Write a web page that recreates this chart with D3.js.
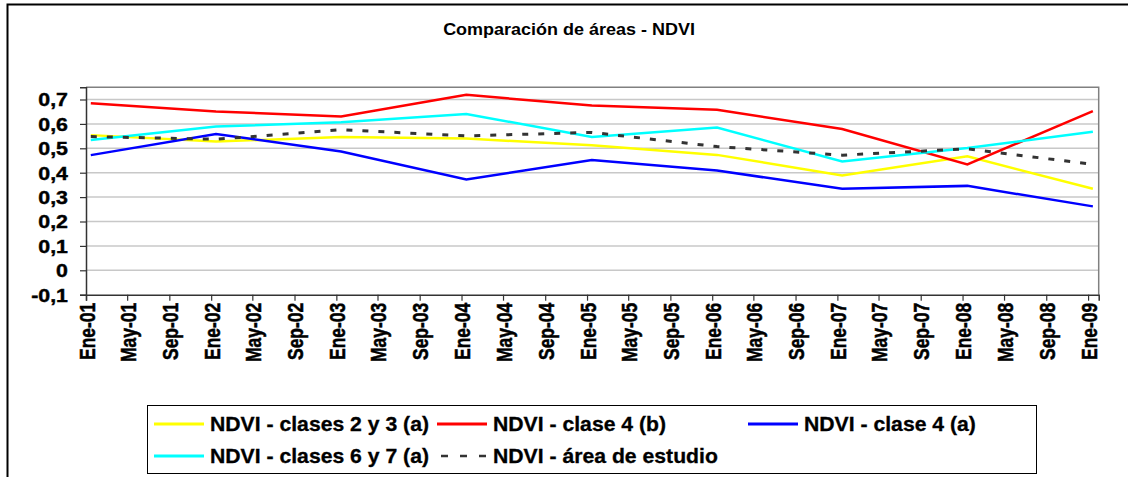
<!DOCTYPE html>
<html>
<head>
<meta charset="utf-8">
<script src="https://cdn.jsdelivr.net/npm/d3@7"></script>
<style>
  body { margin: 0; background: #fff; }
  svg { display: block; font-family: "Liberation Sans", Arial, sans-serif; font-weight: bold; }
</style>
</head>
<body>
<div id="chart"></div>
<script>
// data
var dates = ["2001-01-15", "2002-01-15", "2003-01-15", "2004-01-15", "2005-01-15",
             "2006-01-15", "2007-01-15", "2008-01-15", "2009-01-15"];
var clases23 = [0.554, 0.528, 0.546, 0.540, 0.512, 0.473, 0.389, 0.467, 0.334];
var clase4b  = [0.685, 0.651, 0.630, 0.719, 0.675, 0.658, 0.579, 0.434, 0.652];
var clase4a  = [0.472, 0.559, 0.487, 0.372, 0.452, 0.409, 0.334, 0.346, 0.262];
var clases67 = [0.534, 0.589, 0.607, 0.641, 0.546, 0.585, 0.446, 0.501, 0.568];
var areaEstudio = [0.548, 0.537, 0.576, 0.551, 0.565, 0.507, 0.472, 0.498, 0.434];
var seriesNames = ["NDVI - clases 2 y 3 (a)", "NDVI - clase 4 (b)", "NDVI - clase 4 (a)",
                   "NDVI - clases 6 y 7 (a)", "NDVI - área de estudio"];
var yTicks = [-0.1, 0, 0.1, 0.2, 0.3, 0.4, 0.5, 0.6, 0.7];
var monthNames = ["Ene", "Feb", "Mar", "Abr", "May", "Jun", "Jul", "Ago", "Sep", "Oct", "Nov", "Dic"];
var title = "Comparación de áreas - NDVI";

var width = 1128, height = 477;
var plot = { left: 86, right: 1098.7, top: 87.3, bottom: 294.7 };

var parse = d3.timeParse("%Y-%m-%d");
var styles = [
  { color: "#ffff00", dash: null },
  { color: "#ff0000", dash: null },
  { color: "#0000ff", dash: null },
  { color: "#00ffff", dash: null },
  { color: "#333333", dash: "6,10" }
];
var allValues = [clases23, clase4b, clase4a, clases67, areaEstudio];
var series = allValues.map(function(vals, i) {
  return {
    name: seriesNames[i],
    style: styles[i],
    points: vals.map(function(v, j) { return { date: parse(dates[j]), value: v }; })
  };
});

var svg = d3.select("#chart").append("svg")
    .attr("width", width)
    .attr("height", height);

svg.append("rect").attr("width", width).attr("height", height).attr("fill", "#fff");

// outer chart frame (cut off right and bottom)
svg.append("rect")
    .attr("x", 7.5).attr("y", 4.5)
    .attr("width", 1300).attr("height", 700)
    .attr("fill", "none").attr("stroke", "#000").attr("stroke-width", 2);

// the original text is a bit stretched sideways, hence the scale()
svg.append("text")
    .attr("transform", "translate(569,35) scale(1.09,1)")
    .attr("text-anchor", "middle")
    .attr("font-size", "16.5px")
    .text(title);

var x = d3.scaleTime()
    .domain([new Date(2001, 0, 1), new Date(2009, 1, 1)])
    .range([plot.left, plot.right]);

var y = d3.scaleLinear()
    .domain([-0.1, 0.75])
    .range([plot.bottom, plot.top]);

var locale = d3.formatLocale({ decimal: ",", thousands: ".", grouping: [3], currency: ["", ""], minus: "-" });
var fmt = locale.format(".1~f");

// gridlines
svg.append("g")
  .selectAll("line")
  .data(yTicks.filter(function(t) { return t > -0.1; }))
  .enter().append("line")
    .attr("x1", plot.left).attr("x2", plot.right)
    .attr("y1", function(d) { return y(d); })
    .attr("y2", function(d) { return y(d); })
    .attr("stroke", "#c8c8c8")
    .attr("stroke-width", 1.5);

// plot border (top / right)
svg.append("path")
    .attr("d", "M" + plot.left + "," + plot.top + "H" + plot.right + "V" + plot.bottom)
    .attr("fill", "none").attr("stroke", "#808080").attr("stroke-width", 1.5);

var xTicks = d3.timeMonth.every(4).range(new Date(2001, 0, 1), new Date(2009, 0, 2));

var xAxis = d3.axisBottom(x)
    .tickValues(xTicks)
    .tickSize(6)
    .tickFormat(function(d) { return monthNames[d.getMonth()] + "-" + d3.timeFormat("%y")(d); });

var gx = svg.append("g")
    .attr("transform", "translate(0," + plot.bottom + ")")
    .call(xAxis);
gx.select(".domain").attr("stroke", "#333").attr("stroke-width", 1.5);
gx.selectAll(".tick line").attr("stroke", "#333").attr("stroke-width", 1.2);
gx.selectAll(".tick text")
    .attr("font-size", "17.5px")
    .attr("font-family", null)
    .attr("fill", "#000")
    .attr("stroke", "#000").attr("stroke-width", 0.4)
    .attr("text-anchor", "end")
    .attr("transform", "scale(1.28,1) rotate(-90)")
    .attr("x", -8)
    .attr("y", 0)
    .attr("dy", "0.36em");

var yAxis = d3.axisLeft(y)
    .tickValues(yTicks)
    .tickSize(6)
    .tickFormat(function(d) { return fmt(d); });

var gy = svg.append("g")
    .attr("transform", "translate(" + plot.left + ",0)")
    .call(yAxis);
gy.select(".domain").attr("stroke", "#333").attr("stroke-width", 1.5);
gy.selectAll(".tick line").attr("stroke", "#333").attr("stroke-width", 1.2);
gy.selectAll(".tick text")
    .attr("font-size", "17.5px")
    .attr("font-family", null)
    .attr("fill", "#000")
    .attr("stroke", "#000").attr("stroke-width", 0.4)
    .attr("x", 0)
    .attr("transform", "translate(-18,0) scale(1.22,1)")
    .attr("dy", "0.36em");

// lines
var line = d3.line()
    .x(function(d) { return x(d.date); })
    .y(function(d) { return y(d.value); });

svg.append("g")
  .selectAll("path")
  .data(series)
  .enter().append("path")
    .attr("d", function(d) { return line(d.points); })
    .attr("fill", "none")
    .attr("stroke", function(d) { return d.style.color; })
    .attr("stroke-width", function(d) { return d.style.dash ? 3 : 2.5; })
    .attr("stroke-dasharray", function(d) { return d.style.dash; });

// legend
var legendBox = { x: 147, y: 405, w: 889, h: 68 };
svg.append("rect")
    .attr("x", legendBox.x + 0.5).attr("y", legendBox.y + 0.5)
    .attr("width", legendBox.w).attr("height", legendBox.h)
    .attr("fill", "#fff").attr("stroke", "#000").attr("stroke-width", 1);

var legendCols = [154, 437, 748];
var legendRows = [424, 456];
var legendPos = [[0, 0], [1, 0], [2, 0], [0, 1], [1, 1]];

var item = svg.append("g")
  .selectAll("g")
  .data(series)
  .enter().append("g")
    .attr("transform", function(d, i) {
      return "translate(" + legendCols[legendPos[i][0]] + "," + legendRows[legendPos[i][1]] + ")";
    });

item.append("line")
    .attr("x1", 4).attr("x2", 50)
    .attr("stroke", function(d) { return d.style.color; })
    .attr("stroke-width", function(d) { return d.style.dash ? 2.5 : 3; })
    .attr("stroke-dasharray", function(d) { return d.style.dash ? "7,12" : null; })
    .attr("x1", function(d) { return d.style.dash ? 4 : 0; });

item.append("text")
    .attr("transform", "translate(56,0) scale(1.06,1)")
    .attr("dy", "0.36em")
    .attr("font-size", "20px")
    .attr("stroke", "#000").attr("stroke-width", 0.3)
    .text(function(d) { return d.name; });
</script>
</body>
</html>
